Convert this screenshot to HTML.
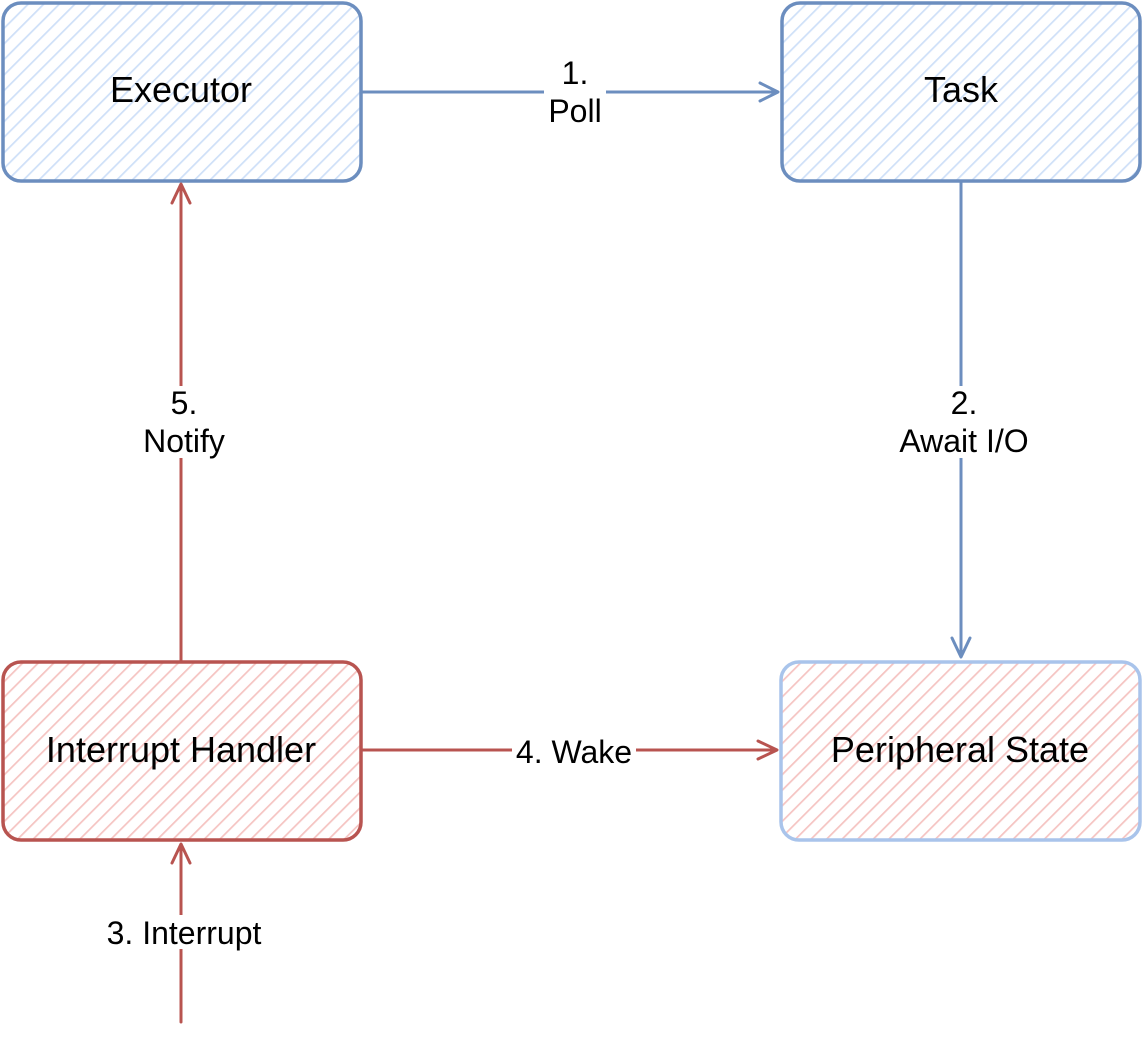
<!DOCTYPE html>
<html><head><meta charset="utf-8"><style>
html,body{margin:0;padding:0;background:#fff;}
svg{display:block;}
text{font-family:"Liberation Sans",sans-serif;fill:#000;}
</style></head><body>
<svg width="1143" height="1047" viewBox="0 0 1143 1047" xmlns="http://www.w3.org/2000/svg">
<defs>
<pattern id="hb" patternUnits="userSpaceOnUse" width="11" height="11" patternTransform="rotate(45)">
<line x1="0" y1="0" x2="0" y2="11" stroke="#cfe0f8" stroke-width="3.5"/>
</pattern>
<pattern id="hr" patternUnits="userSpaceOnUse" width="11" height="11" patternTransform="rotate(45)">
<line x1="0" y1="0" x2="0" y2="11" stroke="#f5c4c2" stroke-width="3.5"/>
</pattern>
</defs>
<rect x="3" y="3" width="358" height="178" rx="18" fill="url(#hb)" stroke="#6c8ebf" stroke-width="3.5"/>
<rect x="782" y="3" width="358" height="178" rx="18" fill="url(#hb)" stroke="#6c8ebf" stroke-width="3.5"/>
<rect x="3" y="662" width="358" height="178" rx="18" fill="url(#hr)" stroke="#b85450" stroke-width="3.5"/>
<rect x="781" y="662" width="359" height="178" rx="18" fill="url(#hr)" stroke="#a9c4eb" stroke-width="3.5"/>
<text x="181" y="102" font-size="36" text-anchor="middle">Executor</text>
<text x="961" y="102" font-size="36" text-anchor="middle">Task</text>
<text x="181" y="762" font-size="36" text-anchor="middle">Interrupt Handler</text>
<text x="960" y="762" font-size="36" text-anchor="middle">Peripheral State</text>
<g fill="none" stroke-width="3" stroke-linecap="round" stroke-linejoin="round">
<path d="M362 92 L776 92" stroke="#6c8ebf"/>
<path d="M760 83 L778 92 L760 101" stroke="#6c8ebf"/>
<path d="M961 182 L961 655" stroke="#6c8ebf"/>
<path d="M952 638 L961 657 L970 638" stroke="#6c8ebf"/>
<path d="M362 750 L775 750" stroke="#b85450"/>
<path d="M758 741 L777 750 L758 759" stroke="#b85450"/>
<path d="M181 660 L181 187" stroke="#b85450"/>
<path d="M172 203 L181 184 L190 203" stroke="#b85450"/>
<path d="M181 1022 L181 847" stroke="#b85450"/>
<path d="M172 863 L181 844 L190 863" stroke="#b85450"/>
</g>
<rect x="544" y="58" width="62" height="68" fill="#fff"/>
<text x="575" y="84" font-size="32" text-anchor="middle">1.</text>
<text x="575" y="122" font-size="32" text-anchor="middle">Poll</text>
<rect x="896" y="386" width="138" height="72" fill="#fff"/>
<text x="964" y="414" font-size="32" text-anchor="middle">2.</text>
<text x="964" y="452" font-size="32" text-anchor="middle">Await I/O</text>
<rect x="140" y="386" width="88" height="72" fill="#fff"/>
<text x="184" y="414" font-size="32" text-anchor="middle">5.</text>
<text x="184" y="452" font-size="32" text-anchor="middle">Notify</text>
<rect x="512" y="734" width="124" height="32" fill="#fff"/>
<text x="574" y="763" font-size="32" text-anchor="middle">4. Wake</text>
<rect x="100" y="915" width="168" height="34" fill="#fff"/>
<text x="184" y="944" font-size="32" text-anchor="middle">3. Interrupt</text>
</svg>
</body></html>
